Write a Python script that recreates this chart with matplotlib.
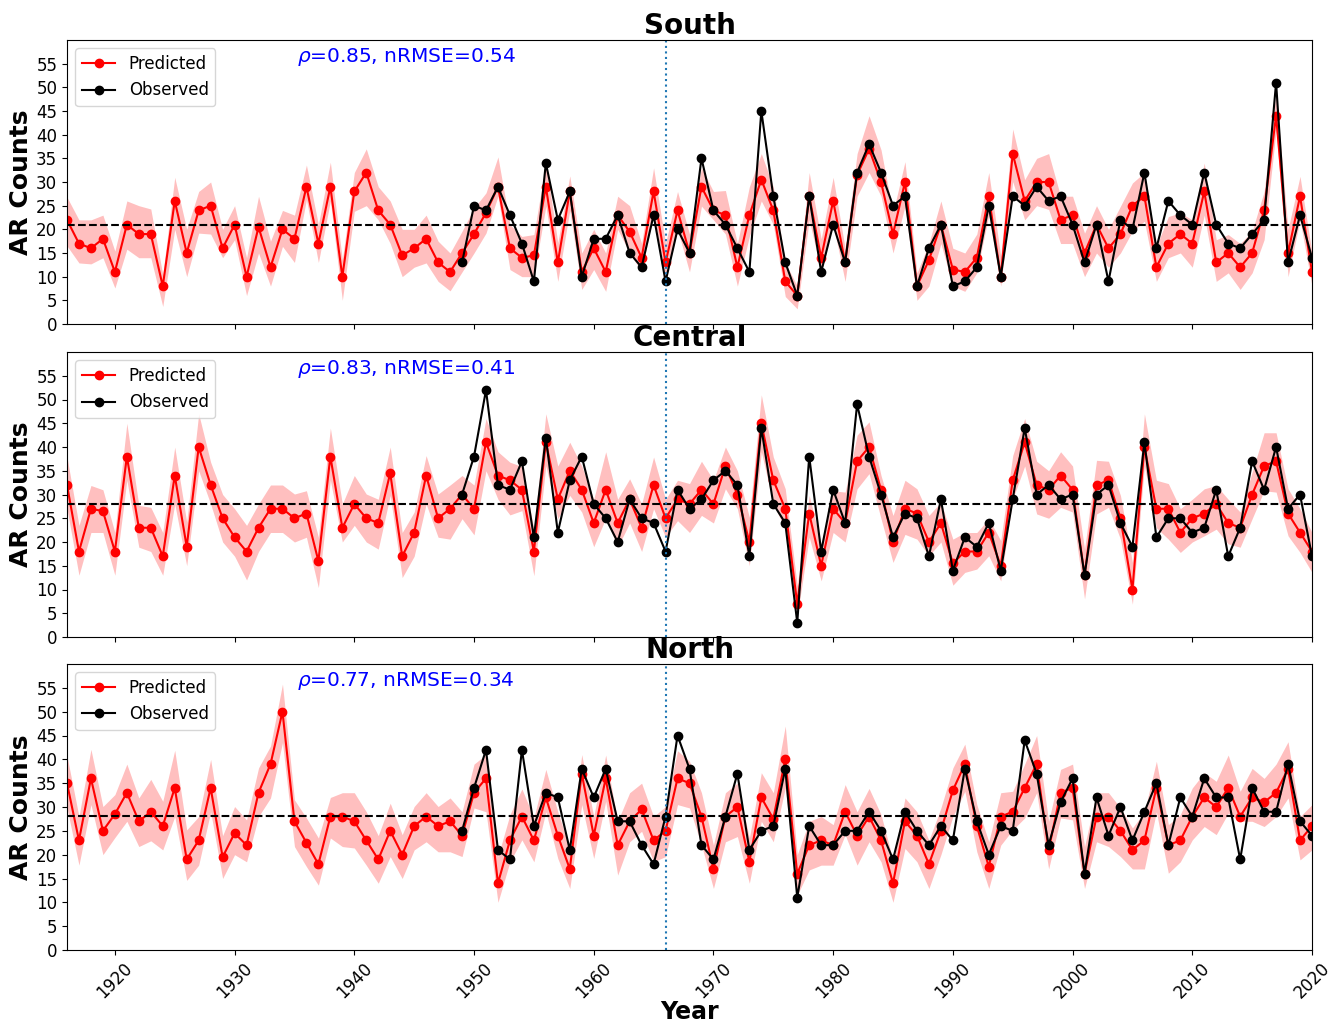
import numpy as np
import matplotlib
matplotlib.use("Agg")
import matplotlib.pyplot as plt

years = list(range(1916, 2021))
obs_years = list(range(1949, 2021))
split_year = 1966

regions = ["South", "Central", "North"]
stats_text = [r"$\rho$=0.85, nRMSE=0.54", r"$\rho$=0.83, nRMSE=0.41", r"$\rho$=0.77, nRMSE=0.34"]
means = [21.0, 28.0, 28.1]

south_pred = [
    22, 17, 16, 18, 11, 21, 19, 19, 8, 26,
    15, 24, 25, 16, 21, 10, 20.5, 12, 20, 18,
    29, 17, 29, 10, 28, 32, 24, 21, 14.5, 16,
    18, 13, 11, 15, 19, 23.5, 29, 16, 14, 14.5,
    29, 13, 28, 11, 16, 11, 23, 19.5, 14, 28,
    13, 24, 15, 29, 24, 23, 12, 23, 30.5, 24,
    9, 6, 27, 14, 26, 13, 31.5, 37, 30, 19,
    30, 8, 13.5, 21, 11.5, 11, 14, 27, 10, 36,
    26, 30, 30, 22, 23, 15, 21, 16, 19, 25,
    27, 12, 17, 19, 17, 28, 13, 15, 12, 15,
    24, 44, 15, 27, 11]
south_upper = [
    26.8, 22, 22, 23, 15.4, 26, 25, 24.3, 10.4, 31,
    20, 28, 30, 20, 25, 14, 27, 17.5, 24, 23,
    33.6, 21, 34.2, 13.6, 32, 37, 29, 26, 20, 20,
    23, 17.5, 15, 19.6, 24.5, 27.7, 35.3, 21, 18.5, 18.9,
    34, 17.2, 31.3, 15, 20, 15, 27, 25, 17, 33,
    17, 28, 19, 33, 28, 28.2, 17, 29, 36, 29,
    13, 8, 32, 18, 31, 16, 36, 44, 36.8, 23.5,
    34.3, 10.8, 17, 26, 16, 15, 19, 32, 14.3, 41.2,
    30.5, 35, 36, 27, 27, 19.2, 25, 20, 24.9, 29.8,
    32, 16.4, 22.7, 23.5, 22, 34, 17.8, 18.9, 17, 19.6,
    28, 48.8, 20, 31.2, 15]
south_lower = [
    16.5, 12.9, 12.7, 14, 7.6, 15.8, 14, 14, 3.7, 20,
    10, 19.2, 19, 14, 17.8, 6, 15, 8, 16.4, 13,
    26.3, 13, 26, 5, 23.8, 25, 22, 17, 10, 12,
    12.9, 9, 7, 11, 15, 19.2, 27, 11.5, 10, 10,
    24.9, 9, 24, 7.3, 11.5, 6.9, 20, 15, 11, 23.5,
    9, 20, 11, 24.9, 22, 19, 8, 18.5, 26, 21,
    5.8, 3.2, 22, 11, 21, 9, 27, 32, 27, 15,
    24.9, 5, 8, 17, 8, 6.9, 10.8, 23, 8, 30.1,
    22, 25, 24.2, 17, 17, 10, 15, 12, 15, 19.6,
    21.7, 9, 14, 15, 12, 23, 9, 10.8, 7.3, 10.8,
    17.8, 41, 10, 22, 8]
south_obs = [
    13, 25, 24, 29, 23, 17, 9, 34, 22, 28,
    10, 18, 18, 23, 15, 12, 23, 9, 20, 15,
    35, 24, 21, 16, 11, 45, 27, 13, 6, 27,
    11, 21, 13, 32, 38, 32, 25, 27, 8, 16,
    21, 8, 9, 12, 25, 10, 27, 25, 29, 26,
    27, 21, 13, 21, 9, 22, 20, 32, 16, 26,
    23, 21, 32, 21, 17, 16, 19, 22, 51, 13,
    23, 14]

central_pred = [
    32, 18, 27, 26.5, 18, 38, 23, 23, 17, 34,
    19, 40, 32, 25, 21, 18, 23, 27, 27, 25,
    26, 16, 38, 23, 28, 25, 24, 34.5, 17, 22,
    34, 25, 27, 30, 27, 41, 34, 33, 31, 18,
    41, 29, 35, 31, 24, 31, 24, 29, 23, 32,
    25, 29, 28, 31, 28, 36, 30, 20, 45, 33,
    27, 7, 26, 15, 27, 24, 37, 40, 31, 20,
    27, 26, 20, 24, 15.5, 18, 18, 22, 15, 33,
    41, 32, 31, 34, 31, 13, 32, 33, 25, 10,
    40, 27, 27, 22, 25, 26, 28, 24, 23, 30,
    36, 37, 26, 22, 18]
central_upper = [
    37.9, 23.5, 31.9, 31, 22, 45, 27.7, 27.3, 22, 40,
    24.2, 47, 36.8, 30, 27, 23.5, 28, 32, 32, 30.1,
    30.8, 21, 44, 28, 34, 30.1, 29, 40, 22, 26.3,
    38.2, 30.1, 32, 34, 32, 46, 39, 36.8, 35.9, 22.7,
    47, 36, 41, 36, 29, 39, 29, 33.3, 28, 37.9,
    29, 33, 32.3, 37, 33, 40, 35, 25.2, 51, 37.9,
    31.2, 10.8, 29.8, 19.6, 30.8, 30.5, 42.5, 45.3, 34, 25.6,
    33, 31.2, 25.6, 28.4, 20.6, 22, 22, 24.9, 20.3, 38.2,
    46, 37, 35, 39, 36, 18.5, 37.2, 37, 29.8, 15.7,
    47, 33, 32.3, 27, 29, 31.2, 31.9, 29, 26.3, 34.7,
    43, 43, 31.2, 27, 22]
central_lower = [
    27, 13, 22, 22, 13, 33, 18.9, 18, 13, 28,
    15, 35, 28, 20, 17, 12, 18, 22, 22, 20,
    21, 10.4, 33, 20, 23.5, 20, 18.5, 29.8, 12.5, 17,
    28, 21, 20.6, 24.9, 21.5, 35, 29, 25.7, 26.6, 12.9,
    36.1, 24.9, 29.8, 26.3, 19, 25, 18.9, 24, 18, 27,
    21, 24.5, 22, 25.6, 24, 31.2, 27, 15, 39, 28,
    22.7, 4.4, 21, 11.8, 22, 20, 31.2, 34.4, 24.9, 15.7,
    21.6, 20.6, 17.1, 20, 10.9, 13.6, 14.3, 17.1, 11.8, 29,
    36, 25.9, 25, 27.3, 26.3, 8, 25.9, 27.3, 20.6, 6.9,
    36, 23, 20.6, 17.8, 20, 21.3, 22.7, 19.6, 18.9, 24.9,
    30.8, 30.5, 21.3, 17.8, 13.6]
central_obs = [
    30, 38, 52, 32, 31, 37, 21, 42, 22, 33,
    38, 28, 25, 20, 29, 25, 24, 18, 31, 27,
    29, 33, 35, 32, 17, 44, 28, 24, 3, 38,
    18, 31, 24, 49, 38, 30, 21, 26, 25, 17,
    29, 14, 21, 19, 24, 14, 29, 44, 30, 32,
    29, 30, 13, 30, 32, 24, 19, 41, 21, 25,
    25, 22, 23, 31, 17, 23, 37, 31, 40, 27,
    30, 17]

north_pred = [
    35, 23, 36, 25, 28.5, 33, 27, 29, 26, 34,
    19, 23, 34, 19.5, 24.5, 22, 33, 39, 50, 27,
    22.5, 18, 28, 28, 27, 23, 19, 25, 20, 26,
    28, 26, 27, 24, 33, 36, 14, 23, 28, 23,
    32, 24, 17, 37, 24, 36, 22, 27, 29.5, 23,
    25, 36, 35, 28, 17, 28, 30, 18.5, 32, 27.5,
    40, 16, 22, 23, 22, 29, 24, 28, 23, 14,
    27, 24, 18, 25, 33.5, 39, 26, 17.5, 28, 29,
    34, 39, 21, 33, 34, 16, 28, 28, 25, 21,
    23, 34, 22, 23, 28, 32, 30, 34, 28, 32,
    31, 33, 38, 23, 26]
north_upper = [
    40.7, 28, 42.1, 30.1, 32.6, 39, 31.9, 35.8, 31.2, 41.9,
    25.2, 28, 40, 24, 30.1, 27.3, 38.2, 42.8, 55.8, 31.5,
    27.7, 23.5, 32, 33, 33, 29, 24, 30.8, 24.2, 30.1,
    33, 30.1, 31.9, 29, 39, 41, 19.6, 28.4, 33.8, 27.7,
    37.9, 29, 21.3, 41, 28, 40.9, 27, 33, 35, 28,
    30.1, 41.8, 39.6, 33, 22, 33, 35, 23.5, 37.2, 33,
    47, 20, 27, 28, 26.3, 34.7, 29, 33.9, 28.4, 18.9,
    31.9, 29, 23, 29.8, 38.2, 43.2, 30.5, 22.7, 33, 33.3,
    39, 45, 27, 37.9, 39, 21.7, 33, 33, 29.8, 25.6,
    29, 39.6, 26.3, 28.4, 34, 37.2, 35.4, 40.9, 33.3, 38.1,
    36, 39, 43.7, 28, 30.5]
north_lower = [
    29.8, 17.8, 30.5, 20, 23.6, 27, 21.7, 22.9, 21, 28,
    14.6, 17.8, 29, 15, 20, 18.5, 28, 31.9, 43.5, 21.7,
    17.5, 13.6, 23.5, 21.7, 21.4, 17.8, 14, 19.6, 15, 21,
    22.7, 20.6, 20.6, 19.6, 29.8, 29, 10, 18.5, 23.1, 18.5,
    29, 19.2, 12.9, 30.5, 19.2, 31.2, 15.7, 22.7, 24.9, 18.5,
    19.6, 30.5, 29.8, 22, 12.9, 22.7, 23.8, 14, 27, 22.7,
    34, 11.5, 16.8, 17.8, 17.8, 24.2, 17.8, 22.7, 18.5, 10,
    21.3, 18.5, 12.9, 20, 28, 33.3, 20.6, 12.9, 22, 25.2,
    27.7, 33, 17, 27.7, 27.3, 12.9, 22.7, 21.7, 19.6, 17,
    17, 29, 16.1, 18.5, 23.1, 25.9, 24.2, 28.7, 27, 27,
    25.9, 28, 31.9, 18.9, 21]
north_obs = [
    25, 34, 42, 21, 19, 42, 26, 33, 32, 21,
    38, 32, 38, 27, 27, 22, 18, 28, 45, 38,
    22, 19, 28, 37, 21, 25, 26, 38, 11, 26,
    22, 22, 25, 25, 29, 25, 19, 29, 25, 22,
    26, 23, 38, 27, 20, 26, 25, 44, 37, 22,
    31, 36, 16, 32, 24, 30, 23, 29, 35, 22,
    32, 28, 36, 32, 32, 19, 34, 29, 29, 39,
    27, 24]

preds = [south_pred, central_pred, north_pred]
uppers = [south_upper, central_upper, north_upper]
lowers = [south_lower, central_lower, north_lower]
obss = [south_obs, central_obs, north_obs]

xticks = list(range(1920, 2021, 10))
yticks = list(range(0, 56, 5))

fig = plt.figure(figsize=(13.38, 10.25), dpi=100)
W, H = 1338, 1025
left, right = 67 / W, 1312 / W
panel_px = [(40, 324), (352, 637), (664, 950)]
axes = []
for i, (top, bot) in enumerate(panel_px):
    ax = fig.add_axes([left, 1 - bot / H, right - left, (bot - top) / H])
    axes.append(ax)

for i, ax in enumerate(axes):
    ax.fill_between(years, lowers[i], uppers[i], color="red", alpha=0.25, linewidth=0)
    ax.plot(years, preds[i], "-o", color="red", markersize=6, linewidth=1.5, label="Predicted")
    ax.plot(obs_years, obss[i], "-o", color="black", markersize=6, linewidth=1.5, label="Observed")
    ax.axhline(means[i], color="black", linestyle="--", linewidth=1.5)
    ax.axvline(split_year, color="tab:blue", linestyle=":", linewidth=1.5)
    ax.set_xlim(1916, 2020)
    ax.set_ylim(0, 60)
    ax.set_yticks(yticks)
    ax.set_xticks(xticks)
    ax.tick_params(axis="both", labelsize=12)
    ax.set_ylabel("AR Counts", fontsize=18, fontweight="bold", labelpad=2)
    ax.set_title(regions[i], fontsize=20, fontweight="bold", pad=3)
    ax.legend(loc="upper left", fontsize=12, borderaxespad=0.5)
    ax.text(0.185, 0.94, stats_text[i], transform=ax.transAxes, color="blue",
            fontsize=14.5, va="center", ha="left")
    if i < 2:
        ax.tick_params(axis="x", labelbottom=False)
    else:
        ax.set_xticklabels([str(t) for t in xticks], rotation=45)
        ax.set_xlabel("Year", fontsize=17, fontweight="bold", labelpad=-2)

fig.savefig("out.png", dpi=100)
